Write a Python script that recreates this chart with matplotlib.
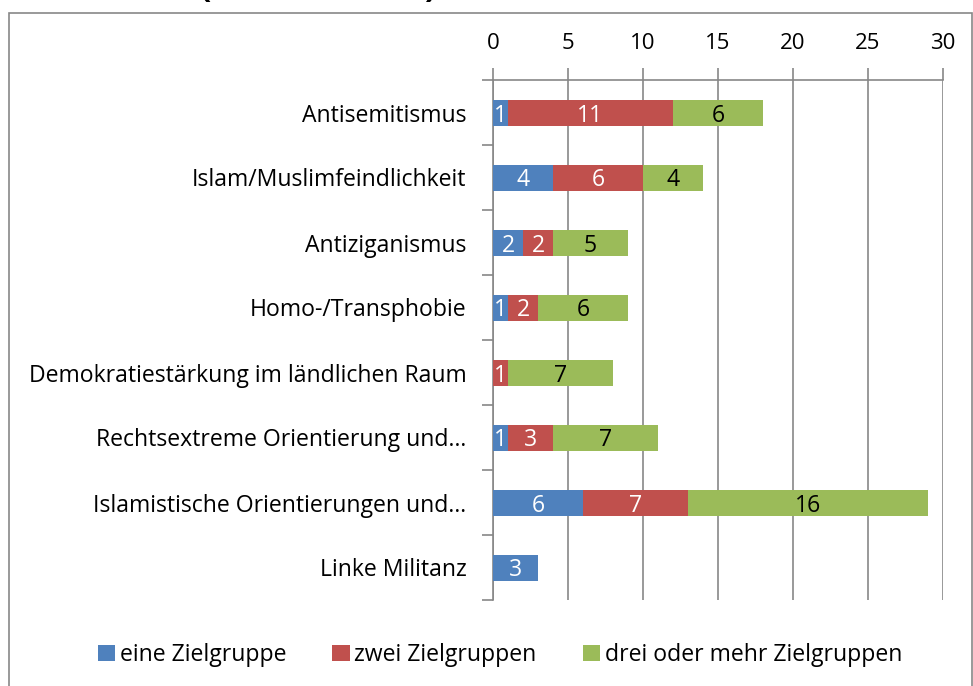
import matplotlib
matplotlib.use("Agg")
import matplotlib.pyplot as plt
from matplotlib.patches import Rectangle, Patch
import numpy as np

categories = [
    "Antisemitismus",
    "Islam/Muslimfeindlichkeit",
    "Antiziganismus",
    "Homo-/Transphobie",
    "Demokratiestärkung im ländlichen Raum",
    "Rechtsextreme Orientierung und…",
    "Islamistische Orientierungen und…",
    "Linke Militanz",
]
eine = [1, 4, 2, 1, 0, 1, 6, 3]
zwei = [11, 6, 2, 2, 1, 3, 7, 0]
drei = [6, 4, 5, 6, 7, 7, 16, 0]
series_names = ["eine Zielgruppe", "zwei Zielgruppen", "drei oder mehr Zielgruppen"]
x_ticks = [0, 5, 10, 15, 20, 25, 30]

colors = ["#4F81BD", "#C0504D", "#9BBB59"]
label_colors = ["white", "white", "black"]
grid_col = "#878787"
FS = 16.6

plt.rcParams['font.family'] = ['Open Sans', 'DejaVu Sans']

W, H = 973, 686
fig = plt.figure(figsize=(W / 100, H / 100), dpi=100)

# outer chart border
fig.patches.append(Rectangle((9 / W, -0.05), (972 - 9) / W, (H - 13) / H + 0.05,
                             transform=fig.transFigure, fill=False,
                             edgecolor=grid_col, lw=1.2))
# clipped title remnants
fig.text(200 / W, (H + 3) / H, "(", fontsize=24, fontweight="bold", va="baseline", ha="left")
fig.text(435 / W, (H + 3) / H, ")", fontsize=24, fontweight="bold", va="baseline", ha="right")

ax = fig.add_axes([493 / W, 86 / H, 450 / W, 520 / H])
y = np.arange(len(categories))
left = np.zeros(len(categories))
for vals, c, lc, name in zip([eine, zwei, drei], colors, label_colors, series_names):
    v = np.array(vals, dtype=float)
    bars = ax.barh(y, v, left=left, height=0.4, color=c, label=name, zorder=3)
    txts = ax.bar_label(bars, labels=[str(int(a)) if a > 0 else "" for a in v],
                        label_type="center", color=lc, fontsize=FS)
    for t in txts:
        t.set_verticalalignment("center_baseline")
    left += v

ax.set_xlim(0, 30)
ax.set_ylim(len(categories) - 0.5, -0.5)
ax.set_xticks(x_ticks)
ax.xaxis.tick_top()
ax.tick_params(axis="x", which="major", direction="out", length=9, width=1.2,
               color=grid_col, labelsize=16, pad=10)
ax.xaxis.grid(True, color=grid_col, lw=1.2, zorder=0)

ax.set_yticks(y)
ax.set_yticklabels(categories, fontsize=FS, va="center_baseline")
ax.tick_params(axis="y", which="major", length=0, pad=19)
ax.set_yticks(np.arange(-0.5, len(categories), 1.0), minor=True)
ax.tick_params(axis="y", which="minor", direction="out", length=8, width=1.2, color=grid_col)

for s in ["right", "bottom"]:
    ax.spines[s].set_visible(False)
for s in ["top", "left"]:
    ax.spines[s].set_color(grid_col)
    ax.spines[s].set_linewidth(1.2)

handles = [Patch(facecolor=c, edgecolor="none") for c in colors]
fig.legend(handles, series_names, loc="center", bbox_to_anchor=(500 / W, (H - 655) / H),
           ncol=3, frameon=False, fontsize=FS, handlelength=0.75, handleheight=0.75,
           handletextpad=0.2, columnspacing=2.0)

fig.savefig("out.png", dpi=100)
